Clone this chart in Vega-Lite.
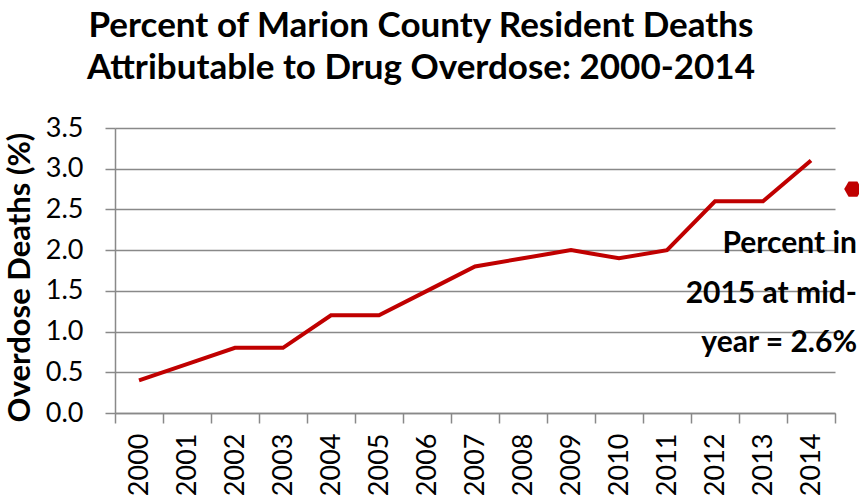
{
  "$schema": "https://vega.github.io/schema/vega-lite/v6.json",
  "width": 720,
  "height": 285,
  "autosize": {"type": "none"},
  "padding": {"left": 115, "top": 128, "right": 24, "bottom": 88},
  "background": "white",
  "title": {
    "text": ["Percent of Marion County Resident Deaths", "Attributable to Drug Overdose: 2000-2014"],
    "anchor": "middle",
    "dx": -54,
    "font": "Lato",
    "fontSize": 35,
    "fontWeight": "bold",
    "color": "#000000",
    "lineHeight": 42,
    "baseline": "bottom",
    "offset": -7
  },
  "config": {
    "view": {"stroke": null},
    "font": "Lato"
  },
  "encoding": {
    "y": {
      "field": "pct",
      "type": "quantitative",
      "scale": {"domain": [0, 3.5], "nice": false, "zero": true},
      "axis": {
        "values": [0, 0.5, 1, 1.5, 2, 2.5, 3, 3.5],
        "format": ".1f",
        "title": "Overdose Deaths (%)",
        "titleFont": "Lato",
        "titleFontSize": 31,
        "titleFontWeight": "bold",
        "titleColor": "#000000",
        "titleX": -95,
        "titleY": 149,
        "titleAlign": "center",
        "titleBaseline": "middle",
        "titleAngle": -90,
        "labelFont": "Lato",
        "labelFontSize": 27,
        "labelColor": "#000000",
        "labelPadding": 22,
        "tickSize": 10,
        "tickColor": "#898989",
        "tickWidth": 1.5,
        "domainColor": "#898989",
        "domainWidth": 1.5,
        "grid": true,
        "gridColor": "#898989",
        "gridWidth": 1.5
      }
    }
  },
  "layer": [
    {
      "data": {
        "values": [
          {"year": "2000", "pct": 0.4},
          {"year": "2001", "pct": 0.6},
          {"year": "2002", "pct": 0.8},
          {"year": "2003", "pct": 0.8},
          {"year": "2004", "pct": 1.2},
          {"year": "2005", "pct": 1.2},
          {"year": "2006", "pct": 1.5},
          {"year": "2007", "pct": 1.8},
          {"year": "2008", "pct": 1.9},
          {"year": "2009", "pct": 2.0},
          {"year": "2010", "pct": 1.9},
          {"year": "2011", "pct": 2.0},
          {"year": "2012", "pct": 2.6},
          {"year": "2013", "pct": 2.6},
          {"year": "2014", "pct": 3.1}
        ]
      },
      "mark": {"type": "line", "color": "#C00000", "strokeWidth": 4},
      "encoding": {
        "x": {
          "field": "year",
          "type": "ordinal",
          "scale": {"type": "band", "paddingInner": 0, "paddingOuter": 0},
          "axis": {
            "title": null,
            "labelAngle": -90,
            "labelAlign": "right",
            "labelBaseline": "middle",
            "labelFont": "Lato",
            "labelFontSize": 27,
            "labelColor": "#000000",
            "labelPadding": 10,
            "tickBand": "extent",
            "tickSize": 10,
            "tickColor": "#898989",
            "tickWidth": 1.5,
            "domainColor": "#898989",
            "domainWidth": 1.5,
            "grid": false
          }
        }
      }
    },
    {
      "data": {
        "values": [
          {"year": 2015, "pct": 2.75, "note": "Percent in\n2015 at mid-\nyear = 2.6%"}
        ]
      },
      "encoding": {
        "x": {
          "field": "year",
          "type": "quantitative",
          "scale": {"domain": [1999.5, 2014.622], "nice": false, "zero": false},
          "axis": null
        }
      },
      "layer": [
        {
          "mark": {
            "type": "point",
            "shape": "M -1 0 L -0.5 -0.866 L 0.5 -0.866 L 1 0 L 0.5 0.866 L -0.5 0.866 Z",
            "size": 310,
            "filled": true,
            "color": "#C00000",
            "opacity": 1
          }
        },
        {
          "mark": {
            "type": "text",
            "align": "right",
            "baseline": "alphabetic",
            "lineBreak": "\n",
            "lineHeight": 49.5,
            "font": "Lato",
            "fontSize": 30,
            "fontWeight": "bold",
            "color": "#000000",
            "dx": 4,
            "dy": 64
          },
          "encoding": {"text": {"field": "note"}}
        }
      ]
    }
  ],
  "resolve": {"scale": {"x": "independent"}}
}
